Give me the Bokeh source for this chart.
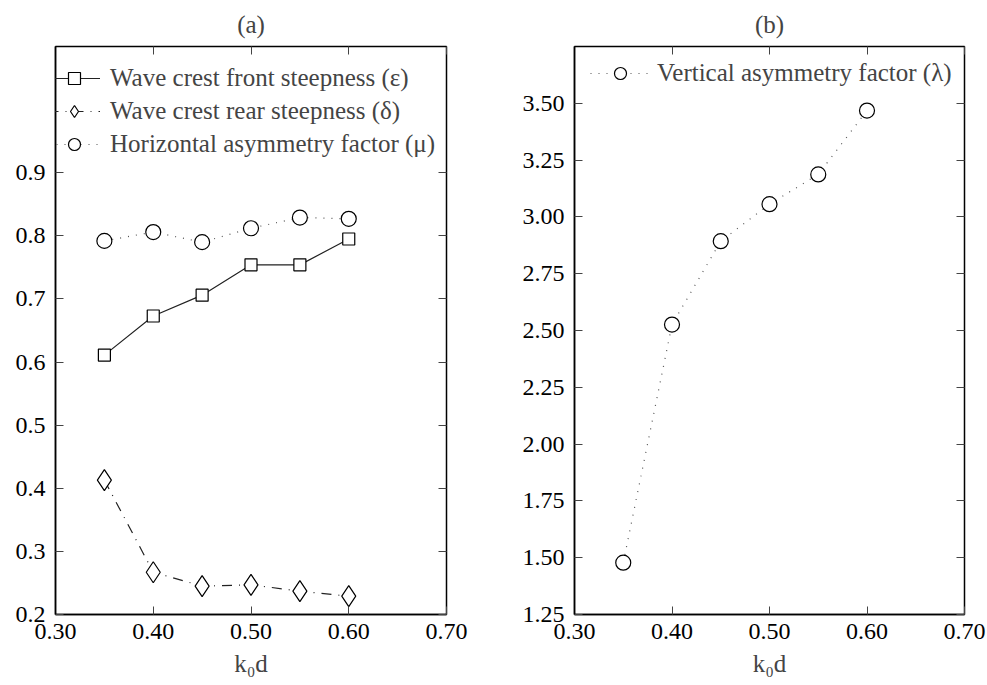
from bokeh.plotting import figure
from bokeh.layouts import row
from bokeh.models import FixedTicker, LinearAxis, Range1d, Legend
from bokeh.embed import file_html
from bokeh.resources import INLINE

# ---- data ----
k0d = [0.35, 0.40, 0.45, 0.50, 0.55, 0.60]
eps = [0.611, 0.673, 0.706, 0.754, 0.754, 0.795]     # wave crest front steepness
delta = [0.413, 0.267, 0.245, 0.247, 0.237, 0.229]   # wave crest rear steepness
mu = [0.792, 0.806, 0.790, 0.812, 0.829, 0.827]      # horizontal asymmetry factor
lam = [1.478, 2.526, 2.893, 3.056, 3.187, 3.468]     # vertical asymmetry factor

x_ticks = [0.3, 0.4, 0.5, 0.6, 0.7]
x_labels = ["0.30", "0.40", "0.50", "0.60", "0.70"]
ya_ticks = [0.2, 0.3, 0.4, 0.5, 0.6, 0.7, 0.8, 0.9]
ya_labels = ["0.2", "0.3", "0.4", "0.5", "0.6", "0.7", "0.8", "0.9"]
yb_ticks = [1.25, 1.5, 1.75, 2.0, 2.25, 2.5, 2.75, 3.0, 3.25, 3.5]
yb_labels = ["1.25", "1.50", "1.75", "2.00", "2.25", "2.50", "2.75", "3.00", "3.25", "3.50"]

FONT = "Liberation Serif"
FS = "24px"


def mirror_axis(ticks):
    return LinearAxis(ticker=FixedTicker(ticks=ticks), major_label_text_font_size="1px",
                      major_label_text_color=None, major_label_standoff=0,
                      axis_line_color=None, major_tick_in=8, major_tick_out=0,
                      major_tick_line_color="#444444", minor_tick_line_color=None)


def make_fig(title, y_range, yticks, ylabels, left_border, right_border, width):
    p = figure(width=width, height=685, x_range=Range1d(0.3, 0.7), y_range=y_range,
               output_backend="svg", toolbar_location=None,
               min_border_left=left_border, min_border_right=right_border,
               min_border_top=46, min_border_bottom=71)
    p.title.text = title
    p.title.align = "center"
    p.title.text_font = FONT
    p.title.text_font_size = "25px"
    p.title.text_font_style = "normal"
    p.title.standoff = 17
    p.grid.visible = False
    p.outline_line_color = "black"
    p.outline_line_width = 1.5
    p.background_fill_color = "white"
    p.border_fill_color = "white"

    for ax in p.xaxis:
        ax.ticker = FixedTicker(ticks=x_ticks)
        ax.major_label_overrides = {t: l for t, l in zip(x_ticks, x_labels)}
    for ax in p.yaxis:
        ax.ticker = FixedTicker(ticks=yticks)
        ax.major_label_overrides = {t: l for t, l in zip(yticks, ylabels)}
    for ax in list(p.xaxis) + list(p.yaxis):
        ax.major_label_text_font = FONT
        ax.major_label_text_font_size = FS
        ax.major_label_text_color = "black"
        ax.axis_line_color = "black"
        ax.axis_line_width = 1.5
        ax.major_tick_in = 8
        ax.major_tick_out = 0
        ax.major_tick_line_color = "#444444"
        ax.minor_tick_line_color = None
        ax.axis_label_text_font = FONT
        ax.axis_label_text_font_size = "25px"
        ax.axis_label_text_font_style = "normal"
    p.xaxis.major_label_standoff = 9
    p.yaxis.major_label_standoff = 10
    p.xaxis.axis_label = "k\u2080d"
    p.xaxis.axis_label_standoff = 8

    p.add_layout(mirror_axis(x_ticks), "above")
    p.add_layout(mirror_axis(yticks), "right")
    return p


pa = make_fig("(a)", Range1d(0.2, 1.1), ya_ticks, ya_labels, 55, 47, 493)
l1 = pa.line(k0d, eps, line_color="#222222", line_width=1.2)
m1 = pa.scatter(k0d, eps, marker="square", size=12, fill_color="white",
                line_color="black", line_width=1.2)
l2 = pa.line(k0d, delta, line_color="#222222", line_width=1.2, line_dash="10 7 1 7")
m2 = pa.scatter(k0d, delta, marker="diamond", size=21, fill_color="white",
                line_color="black", line_width=1.2)
l3 = pa.line(k0d, mu, line_color="#555555", line_width=1.2, line_dash="1 7")
m3 = pa.scatter(k0d, mu, marker="circle", size=15, fill_color="white",
                line_color="black", line_width=1.2)
leg_a = Legend(items=[("Wave crest front steepness (\u03b5)", [l1, m1]),
                      ("Wave crest rear steepness (\u03b4)", [l2, m2]),
                      ("Horizontal asymmetry factor (\u03bc)", [l3, m3])],
               location=(-7, 455), glyph_width=52, label_standoff=10)
pa.add_layout(leg_a)

pb = make_fig("(b)", Range1d(1.25, 3.75), yb_ticks, yb_labels, 81, 23, 494)
l4 = pb.line(k0d, lam, line_color="#555555", line_width=1.2, line_dash="1 7")
m4 = pb.scatter(k0d, lam, marker="circle", size=15, fill_color="white",
                line_color="black", line_width=1.2)
leg_b = Legend(items=[("Vertical asymmetry factor (\u03bb)", [l4, m4])],
               location=(16, 526), glyph_width=60, label_standoff=7)
pb.add_layout(leg_b)

for leg in (leg_a, leg_b):
    leg.border_line_color = None
    leg.background_fill_alpha = 0
    leg.label_text_font = FONT
    leg.label_text_font_size = "25px"
    leg.glyph_height = 30
    leg.label_height = 30
    leg.spacing = 3
    leg.padding = 0
    leg.margin = 0

layout = row(pa, pb)
open("out.html", "w").write(file_html(layout, INLINE))
